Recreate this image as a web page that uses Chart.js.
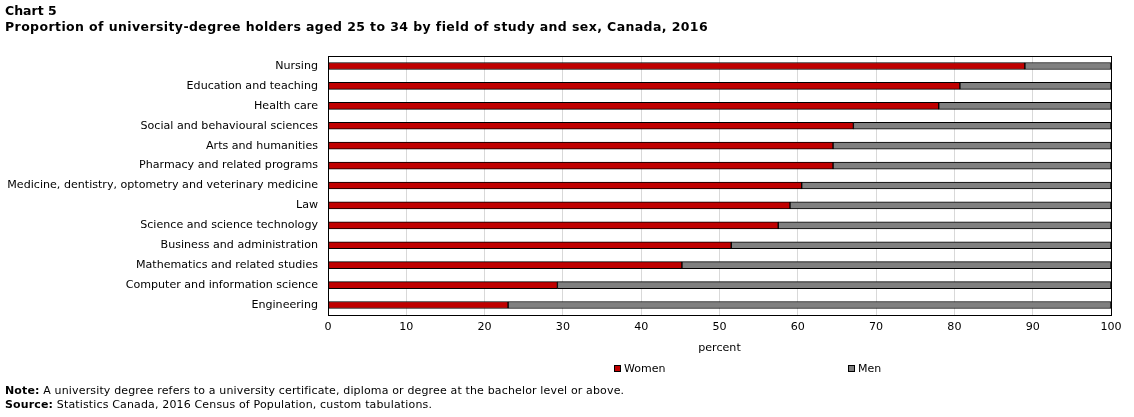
<!DOCTYPE html>
<html><head><meta charset="utf-8">
<script src="https://cdn.jsdelivr.net/npm/chart.js@4.4.1/dist/chart.umd.min.js"></script>
<style>
html,body{margin:0;padding:0;background:#fff;}
#wrap{position:relative;width:1134px;height:417px;overflow:hidden;font-family:"DejaVu Sans",Verdana,sans-serif;color:#000;}
canvas{position:absolute;left:0;top:0;}
.t{position:absolute;left:5px;white-space:nowrap;}
#t1{top:3px;font-size:12.5px;font-weight:bold;}
#t2{top:19px;font-size:12.5px;font-weight:bold;letter-spacing:0.4px;}
#n1{top:384px;font-size:11px;letter-spacing:0.15px;}
#n2{top:398px;font-size:11px;letter-spacing:0.15px;}
.lg{position:absolute;top:362px;font-size:11px;white-space:nowrap;}
.lg i{display:inline-block;width:5px;height:5px;border:1px solid #000;margin-right:3px;vertical-align:0px;}
</style></head>
<body><div id="wrap">
<canvas id="c" width="1134" height="417"></canvas>
<div class="t" id="t1">Chart 5</div>
<div class="t" id="t2">Proportion of university-degree holders aged 25 to 34 by field of study and sex, Canada, 2016</div>
<div class="lg" style="left:614px"><i style="background:#c00000"></i>Women</div>
<div class="lg" style="left:848px"><i style="background:#808080"></i>Men</div>
<div class="t" id="n1"><b>Note:</b> A university degree refers to a university certificate, diploma or degree at the bachelor level or above.</div>
<div class="t" id="n2"><b>Source:</b> Statistics Canada, 2016 Census of Population, custom tabulations.</div>
</div>
<script>
const categories = ["Nursing","Education and teaching","Health care","Social and behavioural sciences","Arts and humanities","Pharmacy and related programs","Medicine, dentistry, optometry and veterinary medicine","Law","Science and science technology","Business and administration","Mathematics and related studies","Computer and information science","Engineering"];
const women = [89.0,80.7,78.0,67.1,64.5,64.5,60.5,59.0,57.5,51.5,45.2,29.3,23.0];
const men = women.map(v => +(100 - v).toFixed(1));
const xTicks = [0,10,20,30,40,50,60,70,80,90,100];

const frame = {
  id:'frame',
  afterDraw(chart){
    const a = chart.chartArea, ctx = chart.ctx;
    ctx.save(); ctx.strokeStyle='#000'; ctx.lineWidth=1;
    ctx.strokeRect(Math.round(a.left)+0.5, Math.round(a.top)+0.5, Math.round(a.right-a.left), Math.round(a.bottom-a.top));
    ctx.restore();
  }
};
const F = {family:'"DejaVu Sans", Verdana, sans-serif', size:11.1};
new Chart(document.getElementById('c'), {
  type:'bar',
  data:{labels:categories, datasets:[
    {label:'Women', data:women, backgroundColor:'#c00000', borderColor:'#000', borderWidth:1, barThickness:7, borderSkipped:false},
    {label:'Men', data:men, backgroundColor:'#808080', borderColor:'#000', borderWidth:1, barThickness:7, borderSkipped:false}
  ]},
  options:{
    indexAxis:'y', responsive:false, animation:false,
    layout:{padding:{top:56,bottom:62,left:5,right:23}},
    plugins:{legend:{display:false}, tooltip:{enabled:false}},
    scales:{
      x:{stacked:true, min:0, max:100,
        afterBuildTicks(ax){ ax.ticks = xTicks.map(v=>({value:v})); },
        afterFit(ax){ ax.height = 40; },
        grid:{color:'#d9d9d9', drawTicks:false},
        border:{color:'#000'},
        ticks:{color:'#000', font:F, padding:5},
        title:{display:true, text:'percent', color:'#000', font:F, padding:{top:5,bottom:0}}
      },
      y:{stacked:true,
        afterFit(ax){ ax.width = 323; },
        grid:{display:false, drawTicks:false},
        border:{color:'#000'},
        ticks:{color:'#000', font:F, padding:10}
      }
    }
  },
  plugins:[frame]
});
</script>
</body></html>
